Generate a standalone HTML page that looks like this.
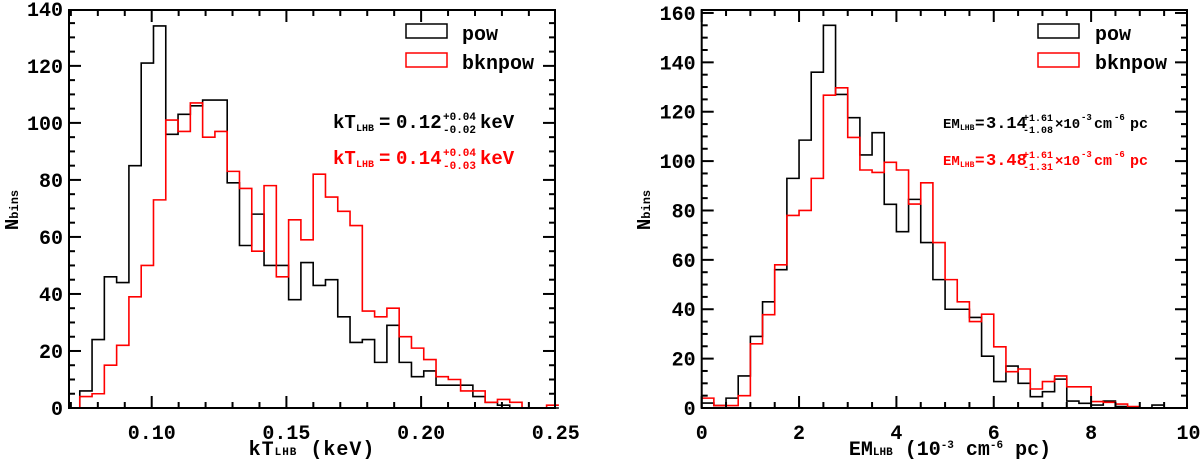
<!DOCTYPE html>
<html><head><meta charset="utf-8"><style>
html,body{margin:0;padding:0;background:#fff;}
svg{display:block;font-family:"Liberation Mono",monospace;font-weight:bold;}
</style></head><body>
<svg id="c" width="1200" height="461" viewBox="0 0 1200 461" xmlns="http://www.w3.org/2000/svg"></svg>
<script>
// ---- Left panel data (kT_LHB histogram) ----
const ktBinStart = 0.0733;
const ktBinWidth = 0.00456;
const ktPow = [6,24,46,44,85,121,134,96,103,106,108,108,79,57,68,50,50,38,51,43,45,32,23,24,16,29,16,11,13,8,8,8,4,2,1,0,0,0,0];
const ktBkn = [4,5,15,22,39,50,73,101,97,107,95,97,83,77,55,78,46,66,59,82,74,69,64,34,32,35,25,21,17,11,10,6,6,2,3,2,0,0,1];
const ktXTicks = [0.10,0.15,0.20,0.25];
const ktXTickLabels = ["0.10","0.15","0.20","0.25"];
const ktYTicks = [0,20,40,60,80,100,120,140];
// ---- Right panel data (EM_LHB histogram) ----
const emBinStart = 0;
const emBinWidth = 0.25;
const emPow = [2,1,4,13,29,43,56,93,108.5,136,155,127,117.6,102.5,111.5,82.5,71.4,84.5,67,52,40,40,36.7,21,10.7,17,10,4.6,6.6,11.7,2.8,1.9,1.2,2.8,0.6,0,0,1.2];
const emBkn = [4,1,1,5,26,37.8,58,78,80,93,126.7,129.7,109.6,96.4,95.4,99.5,96.4,82.6,91.2,67,52,43,35,38,24.8,14.7,15.8,7.7,10.7,13,8.6,8.6,2.6,2.3,1.6,0.6,0,0];
const emXTicks = [0,2,4,6,8,10];
const emXTickLabels = ["0","2","4","6","8","10"];
const emYTicks = [0,20,40,60,80,100,120,140,160];

const NS="http://www.w3.org/2000/svg";
const svg=document.getElementById('c');
function mk(tag,attrs,parent){const e=document.createElementNS(NS,tag);for(const k in attrs)e.setAttribute(k,attrs[k]);(parent||svg).appendChild(e);return e;}

function panel(o){
  const g=mk('g',{});
  
  
  const X=v=>o.x0+(v-o.xmin)/(o.xmax-o.xmin)*(o.x1-o.x0);
  const Y=v=>o.y0-(v-o.ymin)/(o.ymax-o.ymin)*(o.y0-o.y1);
  o.series.forEach(s=>{
    let d='';
    s.vals.forEach((v,i)=>{
      const xa=X(o.bs+i*o.bw), xb=X(o.bs+(i+1)*o.bw);
      d+=(i===0?`M${xa},${Y(0)}L${xa},${Y(v)}`:`L${xa},${Y(v)}`)+`L${xb},${Y(v)}`;
    });
    const p=mk('path',{d:d,fill:'none',stroke:s.color,'stroke-width':1.6},g);
    
    
  });
  const f=mk('rect',{x:o.x0,y:o.y1,width:o.x1-o.x0,height:o.y0-o.y1,fill:'none',stroke:'#000','stroke-width':2},g);
  
  
  for(let v=o.xmin;v<=o.xmax+1e-9;v+=o.xminor){
    const vr=Math.round(v/o.xminor)*o.xminor; if(vr<o.xmin-1e-9||vr>o.xmax+1e-9)continue;
    const isMaj=o.xticks.some(t=>Math.abs(t-vr)<1e-6);
    const L=isMaj?12:6, x=X(vr);
    mk('line',{x1:x,x2:x,y1:o.y0,y2:o.y0-L,stroke:'#000','stroke-width':2},g);
    mk('line',{x1:x,x2:x,y1:o.y1,y2:o.y1+L,stroke:'#000','stroke-width':2},g);
  }
  o.xticks.forEach((t,i)=>{
    const tx=mk('text',{x:X(t),y:o.y0+31,'text-anchor':'middle','font-size':20},g);
    tx.textContent=o.xlabels[i];
    
    
  });
  for(let v=o.ymin;v<=o.ymax+1e-9;v+=5){
    const isMaj=o.yticks.includes(v);
    const L=isMaj?12:6,y=Y(v);
    mk('line',{x1:o.x0,x2:o.x0+L,y1:y,y2:y,stroke:'#000','stroke-width':2},g);
    mk('line',{x1:o.x1,x2:o.x1-L,y1:y,y2:y,stroke:'#000','stroke-width':2},g);
  }
  o.yticks.forEach(t=>{
    const tx=mk('text',{x:o.x0-6,y:Y(t)+7,'text-anchor':'end','font-size':20},g);
    tx.textContent=String(t);
    
    
  });
  return g;
}

panel({name:'kt-histogram-panel',x0:69,x1:555,y0:408,y1:10,xmin:0.0693,xmax:0.2497,ymin:0,ymax:139.6,
  bs:ktBinStart,bw:ktBinWidth,xminor:0.01,xticks:ktXTicks,xlabels:ktXTickLabels,yticks:ktYTicks,
  series:[{vals:ktPow,color:'#000',name:'pow-histogram'},{vals:ktBkn,color:'#ff0000',name:'bknpow-histogram'}]});
panel({name:'em-histogram-panel',x0:701.7,x1:1187,y0:408,y1:10,xmin:0,xmax:9.97,ymin:0,ymax:161.2,
  bs:emBinStart,bw:emBinWidth,xminor:0.5,xticks:emXTicks,xlabels:emXTickLabels,yticks:emYTicks,
  series:[{vals:emPow,color:'#000',name:'pow-histogram'},{vals:emBkn,color:'#ff0000',name:'bknpow-histogram'}]});
</script>
<svg width="1200" height="461" style="position:absolute;left:0;top:0;font-family:'Liberation Mono',monospace;font-weight:bold">
  <g>
    <rect x="406" y="24" width="41" height="14" fill="none" stroke="#000" stroke-width="1.5"/>
    <text x="462" y="40" font-size="20">pow</text>
    <rect x="406" y="53" width="41" height="14" fill="none" stroke="#f00" stroke-width="1.5"/>
    <text x="462" y="69" font-size="20">bknpow</text>
  </g>
  <g fill="#000">
    <text x="333" y="128" font-size="19">kT</text>
    <text x="356" y="131" font-size="10">LHB</text>
    <text x="379" y="128" font-size="19">=</text>
    <text x="396" y="128" font-size="19">0.12</text>
    <text x="443" y="120" font-size="11">+0.04</text>
    <text x="443" y="133" font-size="11">-0.02</text>
    <text x="480" y="128" font-size="19">keV</text>
  </g>
  <g fill="#f00">
    <text x="333" y="164" font-size="19">kT</text>
    <text x="356" y="167" font-size="10">LHB</text>
    <text x="379" y="164" font-size="19">=</text>
    <text x="396" y="164" font-size="19">0.14</text>
    <text x="443" y="156" font-size="11">+0.04</text>
    <text x="443" y="169" font-size="11">-0.03</text>
    <text x="480" y="164" font-size="19">keV</text>
  </g>
  <g>
    <rect x="1038" y="24" width="41" height="14" fill="none" stroke="#000" stroke-width="1.5"/>
    <text x="1095" y="40" font-size="20">pow</text>
    <rect x="1038" y="53" width="41" height="14" fill="none" stroke="#f00" stroke-width="1.5"/>
    <text x="1095" y="69" font-size="20">bknpow</text>
  </g>
  <g fill="#000">
    <text x="943" y="128" font-size="14">EM</text>
    <text x="960" y="130" font-size="8">LHB</text>
    <text x="975" y="128" font-size="16">=</text>
    <text x="986" y="128" font-size="17">3.14</text>
    <text x="1023" y="121" font-size="10">+1.61</text>
    <text x="1023" y="133" font-size="10">-1.08</text>
    <text x="1055" y="128" font-size="14">×10</text>
    <text x="1081" y="120" font-size="9">-3</text>
    <text x="1094" y="128" font-size="15">cm</text>
    <text x="1114" y="120" font-size="9">-6</text>
    <text x="1130" y="128" font-size="15">pc</text>
  </g>
  <g fill="#f00">
    <text x="943" y="165" font-size="14">EM</text>
    <text x="960" y="167" font-size="8">LHB</text>
    <text x="975" y="165" font-size="16">=</text>
    <text x="986" y="165" font-size="17">3.48</text>
    <text x="1023" y="158" font-size="10">+1.61</text>
    <text x="1023" y="170" font-size="10">-1.31</text>
    <text x="1055" y="165" font-size="14">×10</text>
    <text x="1081" y="157" font-size="9">-3</text>
    <text x="1094" y="165" font-size="15">cm</text>
    <text x="1114" y="157" font-size="9">-6</text>
    <text x="1130" y="165" font-size="15">pc</text>
  </g>
  <text x="312" y="455" font-size="20" text-anchor="middle" letter-spacing="1">kT<tspan font-size="11">LHB</tspan> (keV)</text>
  <text x="950" y="455" font-size="20" text-anchor="middle">EM<tspan font-size="11">LHB</tspan> (10<tspan font-size="11" dy="-7">-3</tspan><tspan dy="7"> cm</tspan><tspan font-size="11" dy="-7">-6</tspan><tspan dy="7"> pc)</tspan></text>
  <text transform="translate(18,210) rotate(-90)" font-size="19" text-anchor="middle">N<tspan font-size="12">bins</tspan></text>
  <text transform="translate(650,210) rotate(-90)" font-size="19" text-anchor="middle">N<tspan font-size="12">bins</tspan></text>
</svg>
</body></html>
